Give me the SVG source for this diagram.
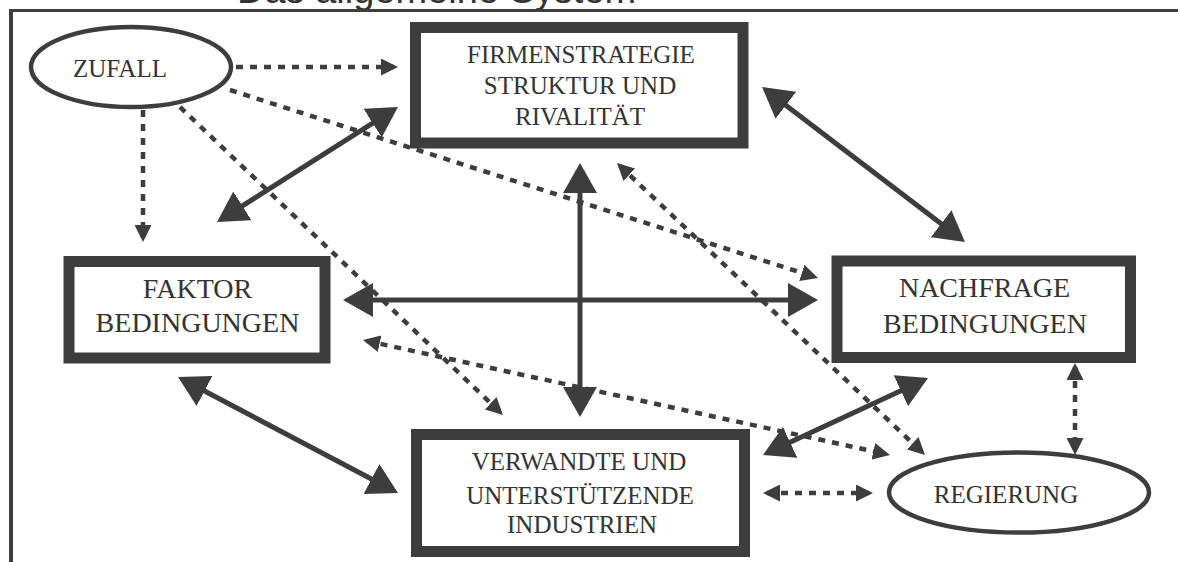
<svg xmlns="http://www.w3.org/2000/svg" width="1178" height="562" viewBox="0 0 1178 562">
  <style>
    .box { fill: #ffffff; stroke: #3d3d3d; stroke-width: 11; }
    .oval { fill: #ffffff; stroke: #3d3d3d; stroke-width: 4.5; }
    .lbl { font-family: "Liberation Serif", "Times New Roman", serif; fill: #333333; text-anchor: middle; }
    .s25 { font-size: 25px; }
    .s28 { font-size: 28px; }
    .solid { stroke: #3d3d3d; stroke-width: 5; fill: none; marker-start: url(#bigHead); marker-end: url(#bigHead); }
    .dot { stroke: #3d3d3d; stroke-width: 4.5; fill: none; stroke-dasharray: 7 7; }
    .dot1 { marker-end: url(#smallHead); }
    .dot2 { marker-start: url(#smallHead); marker-end: url(#smallHead); }
    .frame { stroke: #3d3d3d; fill: none; }
  </style>
  <defs>
    <marker id="bigHead" viewBox="0 0 30 34" refX="22" refY="17" markerWidth="30" markerHeight="34" markerUnits="userSpaceOnUse" orient="auto-start-reverse">
      <path d="M0,0 L30,17 L0,34 z" fill="#3d3d3d"/>
    </marker>
    <marker id="smallHead" viewBox="0 0 17 17" refX="13" refY="8.5" markerWidth="17" markerHeight="17" markerUnits="userSpaceOnUse" orient="auto-start-reverse">
      <path d="M0,0 L17,8.5 L0,17 z" fill="#3d3d3d"/>
    </marker>
  </defs>

  <rect width="1178" height="562" fill="#ffffff"/>

  <g id="frame">
    <text x="237" y="3" font-family="Liberation Sans, Arial, sans-serif" font-size="38" fill="#333333">Das allgemeine System</text>
    <line class="frame" x1="9" y1="10.5" x2="1178" y2="10.5" stroke-width="3"/>
    <line class="frame" x1="11" y1="9" x2="11" y2="562" stroke-width="4"/>
  </g>

  <g id="connectors">
    <line class="solid" x1="223.8" y1="217.7" x2="391.2" y2="111.3"/>
    <line class="solid" x1="768.4" y1="91.9" x2="958.6" y2="237.1"/>
    <line class="solid" x1="351" y1="300" x2="810" y2="300"/>
    <line class="solid" x1="580" y1="171" x2="580" y2="409"/>
    <line class="solid" x1="185.1" y1="380.7" x2="390.9" y2="489.3"/>
    <line class="solid" x1="770.2" y1="451.6" x2="920.8" y2="381.4"/>

    <line class="dot dot1" x1="236" y1="67" x2="394" y2="67"/>
    <line class="dot dot1" x1="143" y1="110" x2="143" y2="238"/>
    <line class="dot dot1" x1="230" y1="90" x2="814.2" y2="276.8"/>
    <line class="dot dot1" x1="180" y1="107" x2="500.1" y2="412.2"/>
    <line class="dot dot2" x1="619.9" y1="165.8" x2="922.1" y2="452.2"/>
    <line class="dot dot2" x1="366.9" y1="340.9" x2="886.1" y2="454.1"/>
    <line class="dot dot2" x1="767" y1="493" x2="869" y2="493"/>
    <line class="dot dot2" x1="1075" y1="367" x2="1075" y2="451"/>
  </g>

  <g id="zufall">
    <ellipse class="oval" cx="131" cy="67" rx="100" ry="40"/>
    <text class="lbl s25" x="120" y="77">ZUFALL</text>
  </g>

  <g id="firmenstrategie">
    <rect class="box" x="415.5" y="27.5" width="327.5" height="115.5"/>
    <text class="lbl s25" x="581" y="63">FIRMENSTRATEGIE</text>
    <text class="lbl s25" x="580" y="94">STRUKTUR UND</text>
    <text class="lbl s25" x="580" y="125">RIVALITÄT</text>
  </g>

  <g id="faktor">
    <rect class="box" x="69" y="261.5" width="256" height="96.5"/>
    <text class="lbl s28" x="197.5" y="298">FAKTOR</text>
    <text class="lbl s28" x="197.5" y="332">BEDINGUNGEN</text>
  </g>

  <g id="nachfrage">
    <rect class="box" x="837" y="261" width="293.5" height="96.5"/>
    <text class="lbl s28" x="984.5" y="297">NACHFRAGE</text>
    <text class="lbl s28" x="985" y="333">BEDINGUNGEN</text>
  </g>

  <g id="verwandte">
    <rect class="box" x="416.5" y="434.5" width="328" height="117"/>
    <text class="lbl s25" x="579" y="470">VERWANDTE UND</text>
    <text class="lbl s25" x="580" y="504">UNTERSTÜTZENDE</text>
    <text class="lbl s25" x="582" y="533">INDUSTRIEN</text>
  </g>

  <g id="regierung">
    <ellipse class="oval" cx="1019" cy="492.5" rx="130" ry="40"/>
    <text class="lbl s25" x="1006" y="503">REGIERUNG</text>
  </g>
</svg>
